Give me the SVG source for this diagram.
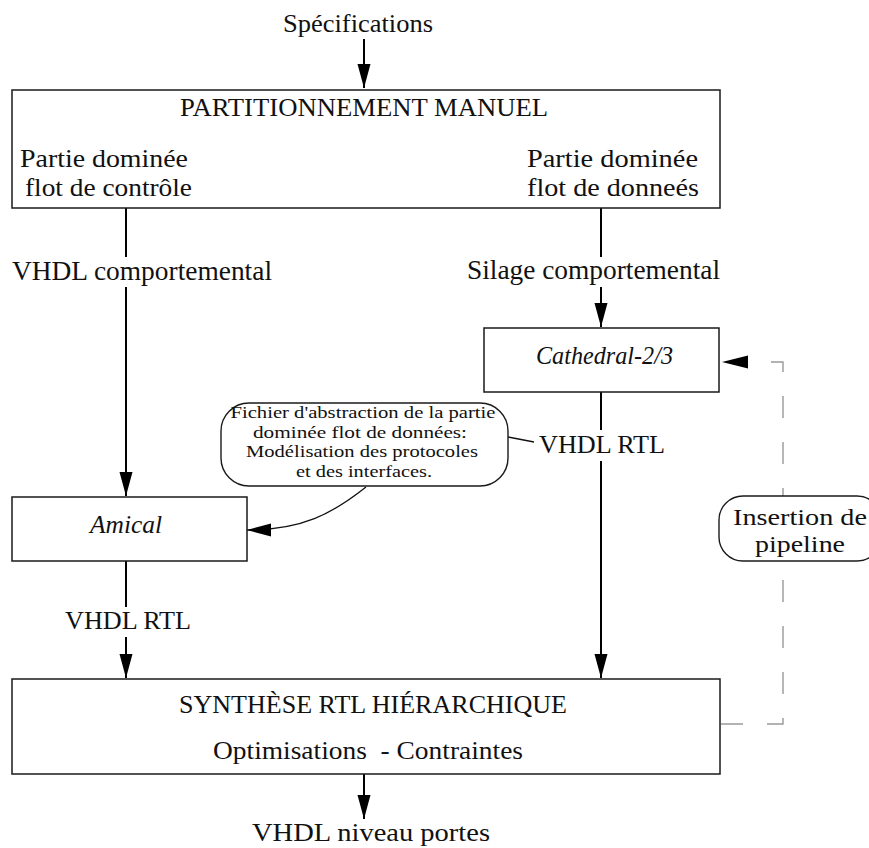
<svg xmlns="http://www.w3.org/2000/svg" width="869" height="848" viewBox="0 0 869 848">
<style>
.bg{fill:#fff}
.box{fill:#fff;stroke:#1a1a1a;stroke-width:1.5}
.bub{fill:#fff;stroke:#1a1a1a;stroke-width:1.4}
.t{font-family:"Liberation Serif","Times New Roman",serif;fill:#111}
.s25{font-size:25px}
.s26{font-size:26px}
.s27{font-size:27px}
.s24{font-size:24px}
.s17{font-size:17px}
.it{font-style:italic}
.ln{fill:none;stroke:#000;stroke-width:2}
.thin{fill:none;stroke:#111;stroke-width:1.3}
.dash{fill:none;stroke:#999;stroke-width:1.4;stroke-dasharray:22 24}
</style>
<defs>
<marker id="ah" markerUnits="userSpaceOnUse" markerWidth="26" markerHeight="14" refX="24" refY="6.5" orient="auto">
<path d="M0,0 L24,6.5 L0,13 z" fill="#000"/>
</marker>
</defs>
<rect class="bg" x="0" y="0" width="869" height="848"/>

<g id="connectors">
<path class="ln" d="M364,39 V88" marker-end="url(#ah)"/>
<path class="ln" d="M126,208 V257"/>
<path class="ln" d="M126,287 V496" marker-end="url(#ah)"/>
<path class="ln" d="M601,208 V257"/>
<path class="ln" d="M601,287 V327" marker-end="url(#ah)"/>
<path class="ln" d="M601,392 V430"/>
<path class="ln" d="M601,461 V678" marker-end="url(#ah)"/>
<path class="ln" d="M126,561 V607"/>
<path class="ln" d="M126,637 V678" marker-end="url(#ah)"/>
<path class="ln" d="M364,774 V819" marker-end="url(#ah)"/>
<path class="thin" d="M508,437 L534,442"/>
<path class="thin" d="M366,487 C332,514 302,530 247,530" marker-end="url(#ah)"/>
<path class="dash" d="M721,724 H783 V362 H748"/>
<path d="M722,362 L748,355.5 L748,368.5 z" fill="#000"/>
</g>

<g id="specifications">
<text class="t s25" x="358" y="32" text-anchor="middle" textLength="150" lengthAdjust="spacingAndGlyphs">Spécifications</text>
</g>

<g id="partitionnement">
<rect class="box" x="12" y="90" width="708" height="118"/>
<text class="t s25" x="364" y="116" text-anchor="middle" textLength="368" lengthAdjust="spacingAndGlyphs">PARTITIONNEMENT MANUEL</text>
<text class="t s26" x="20" y="167" textLength="168" lengthAdjust="spacingAndGlyphs">Partie dominée</text>
<text class="t s26" x="25" y="196" textLength="167" lengthAdjust="spacingAndGlyphs">flot de contrôle</text>
<text class="t s26" x="527" y="167" textLength="171" lengthAdjust="spacingAndGlyphs">Partie dominée</text>
<text class="t s26" x="527" y="196" textLength="172" lengthAdjust="spacingAndGlyphs">flot de donneés</text>
</g>

<g id="label-vhdl-comportemental">
<text class="t s27" x="12" y="280" textLength="260" lengthAdjust="spacingAndGlyphs">VHDL comportemental</text>
</g>

<g id="label-silage">
<text class="t s27" x="467" y="279" textLength="253" lengthAdjust="spacingAndGlyphs">Silage comportemental</text>
</g>

<g id="cathedral">
<rect class="box" x="484" y="328" width="235" height="64"/>
<text class="t s25 it" x="536" y="364" textLength="137" lengthAdjust="spacingAndGlyphs">Cathedral-2/3</text>
</g>

<g id="label-vhdl-rtl-right">
<text class="t s26" x="539" y="453" textLength="126" lengthAdjust="spacingAndGlyphs">VHDL RTL</text>
</g>

<g id="callout-abstraction">
<rect class="bub" x="221" y="403" width="287" height="83" rx="28" ry="28"/>
<text class="t s17" text-anchor="middle"><tspan x="363" y="418" textLength="265" lengthAdjust="spacingAndGlyphs">Fichier d'abstraction de la partie</tspan><tspan x="360" y="437.5" textLength="214" lengthAdjust="spacingAndGlyphs">dominée flot de données:</tspan><tspan x="362" y="457" textLength="232" lengthAdjust="spacingAndGlyphs">Modélisation des protocoles</tspan><tspan x="364" y="476.5" textLength="136" lengthAdjust="spacingAndGlyphs">et des interfaces.</tspan></text>
</g>

<g id="amical">
<rect class="box" x="12" y="497" width="235" height="64"/>
<text class="t s25 it" x="90" y="533" textLength="72" lengthAdjust="spacingAndGlyphs">Amical</text>
</g>

<g id="label-vhdl-rtl-left">
<text class="t s26" x="65" y="629" textLength="126" lengthAdjust="spacingAndGlyphs">VHDL RTL</text>
</g>

<g id="insertion-pipeline">
<rect class="bub" x="719" y="496" width="162" height="65" rx="24" ry="24"/>
<text class="t s24" x="733" y="525" textLength="134" lengthAdjust="spacingAndGlyphs">Insertion de</text>
<text class="t s24" x="755" y="552" textLength="90" lengthAdjust="spacingAndGlyphs">pipeline</text>
</g>

<g id="synthese">
<rect class="box" x="12" y="679" width="708" height="95"/>
<text class="t s25" x="179" y="713" textLength="388" lengthAdjust="spacingAndGlyphs">SYNTHÈSE RTL HIÉRARCHIQUE</text>
<text class="t s25" x="213" y="759" textLength="310" lengthAdjust="spacingAndGlyphs" style="white-space:pre">Optimisations  - Contraintes</text>
</g>

<g id="vhdl-niveau-portes">
<text class="t s25" x="252" y="841" textLength="238" lengthAdjust="spacingAndGlyphs">VHDL niveau portes</text>
</g>
</svg>
